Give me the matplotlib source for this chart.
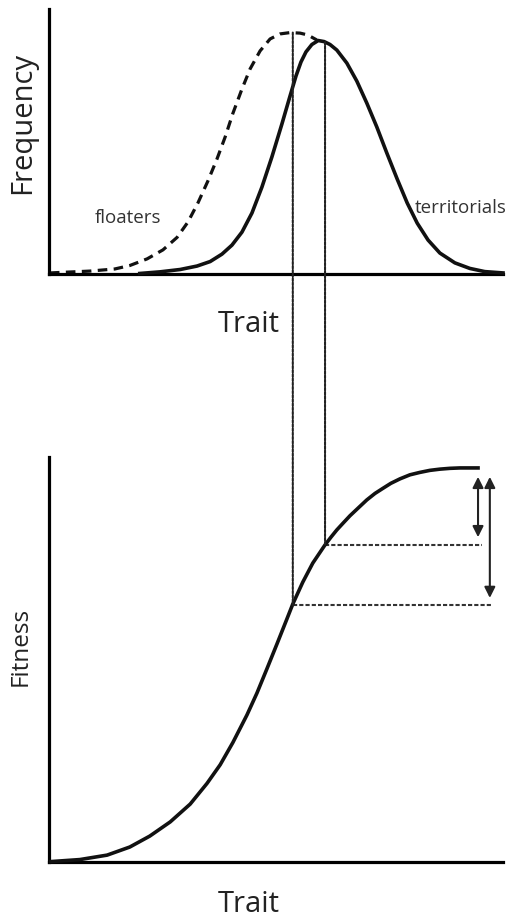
import matplotlib
matplotlib.use("Agg")
import matplotlib.pyplot as plt
from matplotlib.patches import ConnectionPatch

plt.rcParams['font.family'] = ['Open Sans', 'DejaVu Sans']

# trait axis runs 0-100, frequency 0-100, fitness 0-100 (arbitrary units)
floater_trait = [0.2, 9.0, 14.5, 17.8, 21.6, 25.1, 28.2, 30.6, 32.8, 35.0, 37.0,
                 38.8, 40.5, 42.5, 44.3, 46.5, 48.7, 50.9, 53.1, 55.3, 57.0, 59.0]
floater_freq = [0.4, 1.1, 1.9, 3.2, 5.7, 9.1, 13.8, 19.6, 26.8, 35.1, 43.4,
                51.7, 60.6, 69.8, 77.4, 84.2, 88.7, 90.6, 91.1, 90.9, 90.2, 88.3]

territorial_trait = [20.0, 24.4, 28.9, 32.6, 35.5, 38.1, 40.3, 42.5, 44.7, 46.9, 49.1,
                     51.3, 53.1, 54.4, 55.5, 56.6, 57.9, 59.3, 60.6, 61.9, 63.4,
                     65.6, 67.8, 70.0, 72.2, 74.4, 76.7, 78.9, 81.1, 83.5, 86.1,
                     89.4, 92.7, 96.0, 100.0]
territorial_freq = [0.2, 0.8, 1.7, 3.0, 4.7, 7.5, 10.9, 15.8, 23.0, 32.8, 44.2,
                    56.6, 67.2, 74.7, 80.0, 83.8, 86.6, 88.1, 87.7, 86.6, 84.5,
                    79.6, 72.8, 64.5, 55.5, 45.7, 35.8, 26.8, 19.2, 12.8, 7.9,
                    4.2, 2.1, 0.9, 0.4]

fitness_trait = [0.4, 6.8, 12.8, 17.8, 22.2, 26.7, 31.1, 34.8, 37.7, 40.5, 43.6,
                 45.8, 48.0, 50.2, 52.4, 53.7, 55.9, 58.1, 60.8, 62.1, 63.4,
                 64.8, 66.3, 68.1, 70.0, 71.8, 73.6, 75.3, 77.3, 79.5, 81.7,
                 83.9, 86.1, 88.3, 90.5, 94.5]
fitness_val = [0.1, 0.6, 1.7, 3.7, 6.4, 9.9, 14.3, 19.4, 24.0, 29.5, 36.3,
               41.7, 47.7, 53.8, 60.0, 63.7, 69.1, 73.8, 78.3, 80.2, 82.0,
               83.7, 85.5, 87.4, 89.4, 91.0, 92.3, 93.5, 94.6, 95.6, 96.2,
               96.7, 97.0, 97.2, 97.3, 97.3]

# mean traits of the two groups and where they land on the fitness curve
floater_mean = 53.7
territorial_mean = 60.8
floater_peak = 91.1
territorial_peak = 87.5
floater_fitness = 63.4
territorial_fitness = 78.3
max_fitness = 95.1
short_arrow_end = 80.2
long_arrow_end = 65.2

fig = plt.figure(figsize=(5.09, 9.17), dpi=100)
ax1 = fig.add_axes([49/509, 1 - 274/917, 454/509, 265/917])
ax2 = fig.add_axes([49/509, 1 - 862/917, 454/509, 405/917])

for ax in (ax1, ax2):
    ax.set_xlim(0, 100)
    ax.set_ylim(0, 100)
    ax.spines['top'].set_visible(False)
    ax.spines['right'].set_visible(False)
    ax.spines['left'].set_linewidth(2.3)
    ax.spines['bottom'].set_linewidth(2.3)
    ax.set_xticks([])
    ax.set_yticks([])
    ax.patch.set_alpha(0)

# top panel
ax1.plot(floater_trait, floater_freq, color='#111', lw=2.3, ls=(0, (3, 2)),
         dash_capstyle='butt', dash_joinstyle='round', clip_on=False)
ax1.plot(territorial_trait, territorial_freq, color='#111', lw=2.6, clip_on=False,
         solid_joinstyle='round', zorder=3)
ax1.text(17.4, 21.1, "floaters", fontsize=13.5, color='#333', ha='center', va='center')
ax1.text(90.7, 24.9, "territorials", fontsize=13.5, color='#333', ha='center', va='center')
ax1.text(44.1, -21.9, "Trait", fontsize=21, color='#222', ha='center', va='baseline')
ax1.text(-5.7, 57, "Frequency", fontsize=21, color='#222', ha='center', va='center',
         rotation=90)

# bottom panel
ax2.plot(fitness_trait, fitness_val, color='#111', lw=2.6, clip_on=False,
         solid_joinstyle='round', zorder=3)
ax2.plot([territorial_mean, 95.4], [territorial_fitness, territorial_fitness],
         color='#333', lw=1.5, ls=(0, (2, 1)))
ax2.plot([floater_mean, 97.8], [floater_fitness, floater_fitness],
         color='#333', lw=1.5, ls=(0, (2, 1)))
ax2.annotate("", xy=(94.5, short_arrow_end), xytext=(94.5, max_fitness),
             arrowprops=dict(arrowstyle='<|-|>', mutation_scale=16, lw=1.5,
                             color='#222', shrinkA=0, shrinkB=0))
ax2.annotate("", xy=(97.1, long_arrow_end), xytext=(97.1, max_fitness),
             arrowprops=dict(arrowstyle='<|-|>', mutation_scale=16, lw=1.5,
                             color='#222', shrinkA=0, shrinkB=0))
ax2.text(44.1, -12.3, "Trait", fontsize=21, color='#222', ha='center', va='baseline')
ax2.text(-6.2, 53.3, "Fitness", fontsize=17.5, color='#222', ha='center', va='center',
         rotation=90)

# dotted links from each group's mean down to the fitness curve
for t, f, w in [(floater_mean, floater_peak, floater_fitness),
                (territorial_mean, territorial_peak, territorial_fitness)]:
    con = ConnectionPatch(xyA=(t, f), coordsA=ax1.transData,
                          xyB=(t, w), coordsB=ax2.transData,
                          color='#222', lw=1.5, ls=(0, (1.2, 0.8)), zorder=1)
    fig.add_artist(con)

fig.savefig("out.png", dpi=100)
